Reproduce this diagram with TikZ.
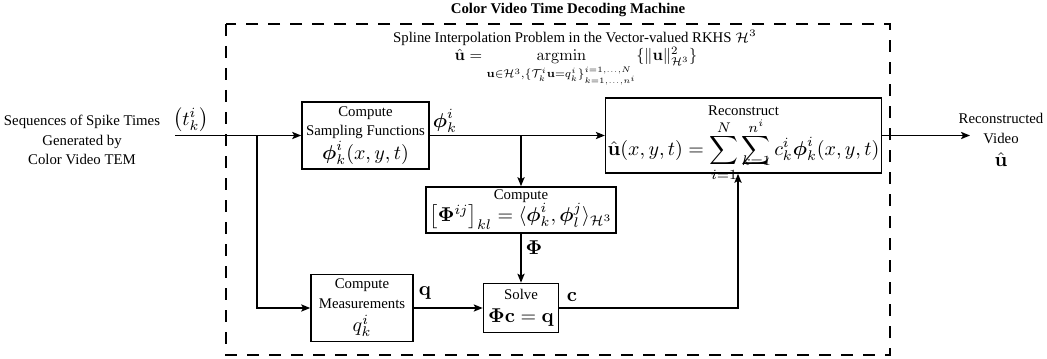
\documentclass[tikz,border=0pt]{standalone}
\usepackage{amsmath,amssymb,graphicx}
\usepackage[no-math]{fontspec}
\setmainfont{Liberation Serif}
\usetikzlibrary{arrows.meta,calc}

\newcommand\txtsz{\fontsize{7.4}{9.6}\selectfont}
\newcommand\mthsz{\fontsize{10}{12}\selectfont}
\newcommand\bphi{\boldsymbol{\phi}}
% limits of a sum set closer to the operator
\newcommand\uplim[1]{\raisebox{-4pt}[0pt][0pt]{$\scriptstyle #1$}}
\newcommand\lolim[1]{\raisebox{6.5pt}[0pt][0pt]{$\scriptstyle #1$}}

\tikzset{
  blk/.style={draw, line width=0.8pt, align=center, inner sep=1pt, font=\txtsz},
  arr/.style={-{Stealth[length=4.5pt,width=3.6pt,inset=1pt]}, line width=0.8pt},
  dashframe/.style={dash pattern=on 6pt off 5pt, line width=0.9pt},
  mlbl/.style={font=\mthsz, inner sep=0pt},
  tlbl/.style={font=\txtsz, align=center, inner sep=0pt}
}

\begin{document}
\begin{tikzpicture}[x=0.5pt,y=-0.5pt]
\useasboundingbox (0,0) rectangle (1047,358);

% title and the spline problem statement
\node[tlbl, font=\txtsz\bfseries] (title) at (568,10) {Color Video Time Decoding Machine};
\draw[dashframe] (226,24) rectangle (890,355);
\node[tlbl] (spline) at (575,38) {Spline Interpolation Problem in the Vector-valued RKHS $\mathcal{H}^3$};
\node[mlbl, anchor=base] (argmin) at (576,61)
  {\scalebox{0.81}{$\displaystyle \hat{\mathbf{u}} = \operatorname*{argmin}_{\mathbf{u}\in\mathcal{H}^3,\{\mathcal{T}^i_k\mathbf{u}=q^i_k\}^{i=1,\dots,N}_{k=1,\dots,n^i}} \{\|\mathbf{u}\|^2_{\mathcal{H}^3}\}$}};

% processing blocks
\node[blk, minimum width=127*0.5pt, minimum height=67*0.5pt] (samp) at (365.5,135.5)
  {Compute\\Sampling Functions\\[0pt]\mthsz$\bphi^i_k(x,y,t)$};
\node[blk, minimum width=269*0.5pt, minimum height=75*0.5pt] (recon) at (743.5,135.5)
  {Reconstruct\\[7pt]\raisebox{0pt}[12pt][5pt]{\mthsz$\displaystyle \hat{\mathbf{u}}(x,y,t)=\sum_{\lolim{i=1}}^{\uplim{N}}\sum_{\lolim{k=1}}^{\uplim{n^i}} c^i_k\bphi^i_k(x,y,t)$}};
\node[blk, minimum width=190*0.5pt, minimum height=46*0.5pt] (gram) at (521,210)
  {Compute\\[-1pt]\mthsz$\bigl[\mathbf{\Phi}^{ij}\bigr]_{kl} = \langle\bphi^i_k,\bphi^j_l\rangle_{\mathcal{H}^3}$};
\node[blk, minimum width=102*0.5pt, minimum height=67*0.5pt] (meas) at (362,308)
  {Compute\\Measurements\\[2pt]\mthsz$q^i_k$};
\node[blk, minimum width=75*0.5pt, minimum height=49*0.5pt] (solve) at (521,308)
  {Solve\\[2pt]\mthsz$\mathbf{\Phi c} = \mathbf{q}$};

% input and output texts
\node[tlbl] (src) at (82,140) {Sequences of Spike Times\\Generated by\\Color Video TEM};
\node[mlbl] (tki) at (191,120) {$\bigl(t^i_k\bigr)$};
\node[tlbl] (dst) at (1001,140) {Reconstructed\\Video\\[2pt]\mthsz$\hat{\mathbf{u}}$};

\coordinate (in) at (175,135.5);
\coordinate (split) at (257,135.5);
\coordinate (tap) at (gram.north |- samp.east);
\coordinate (feed) at ($(recon.south)+(-5.5,0)$);
\coordinate (out) at (970,135.5);

% connectors
\draw[arr] (in) -- (samp.west);
\draw[arr] (split) |- (meas.west);
\draw[arr] (samp.east) -- (recon.west);
\draw[arr] (tap) -- (gram.north);
\draw[arr] (gram.south) -- (solve.north);
\draw[arr] (meas.east) -- (solve.west);
\draw[arr] (solve.east) -| (feed);
\draw[arr] (recon.east) -- (out);

% signal labels
\node[mlbl] (phil) at (445,121) {$\bphi^i_k$};
\node[mlbl] (Phil) at (534,248) {$\mathbf{\Phi}$};
\node[mlbl] (ql) at (425,293) {$\mathbf{q}$};
\node[mlbl] (cl) at (572,297) {$\mathbf{c}$};
\end{tikzpicture}
\end{document}
